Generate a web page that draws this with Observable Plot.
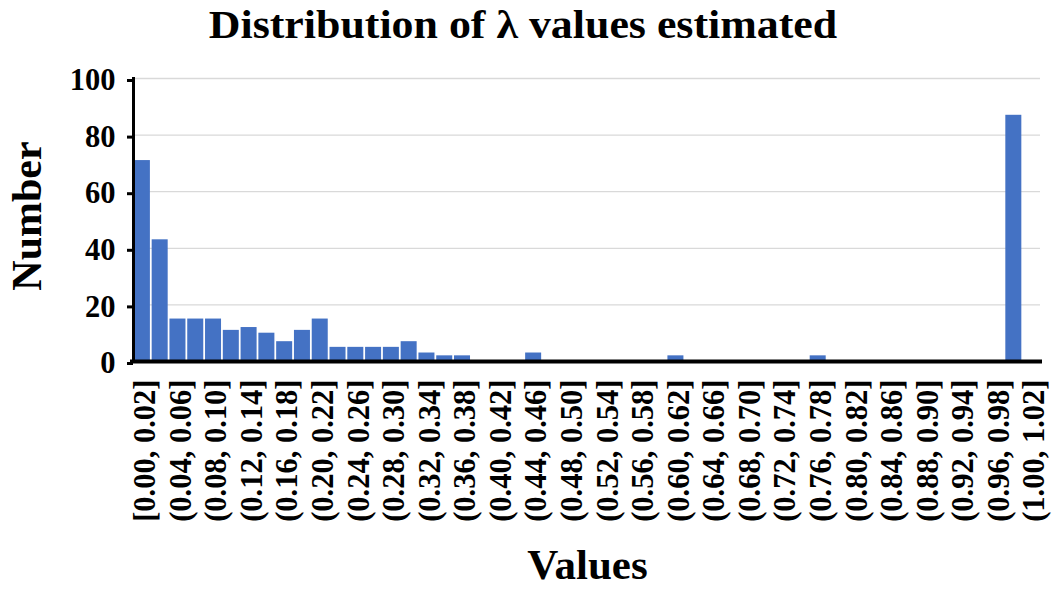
<!DOCTYPE html>
<html>
<head>
<meta charset="utf-8">
<script src="https://cdn.jsdelivr.net/npm/d3@7"></script>
<script src="https://cdn.jsdelivr.net/npm/@observablehq/plot@0.6"></script>
<style>
  body { margin: 0; background: #fff; }
  #wrap { position: relative; width: 1053px; height: 589px; overflow: hidden;
          font-family: "Liberation Serif", "Times New Roman", serif; font-weight: bold; color: #000; }
  #title { position: absolute; left: 0; top: 1px; width: 1046px; height: 46px; line-height: 46px;
           text-align: center; font-size: 41px; white-space: nowrap; transform: scaleX(1.07); transform-origin: 523px 50%; }
  #chart { position: absolute; left: 0; top: 50px; }
  #ylabel { position: absolute; left: -73px; top: 192px; width: 200px; height: 48px; line-height: 48px;
            text-align: center; font-size: 42px; transform: rotate(-90deg); }
  #xlabel { position: absolute; left: 0; top: 540px; width: 1175px; height: 49px; line-height: 49px;
            text-align: center; font-size: 43px; }
</style>
</head>
<body>
<div id="wrap">
  <div id="title">Distribution of λ values estimated</div>
  <div id="chart"></div>
  <div id="ylabel">Number</div>
  <div id="xlabel">Values</div>
</div>
<script>
const bins = [
  "[0.00, 0.02]", "(0.02, 0.04]", "(0.04, 0.06]", "(0.06, 0.08]", "(0.08, 0.10]",
  "(0.10, 0.12]", "(0.12, 0.14]", "(0.14, 0.16]", "(0.16, 0.18]", "(0.18, 0.20]",
  "(0.20, 0.22]", "(0.22, 0.24]", "(0.24, 0.26]", "(0.26, 0.28]", "(0.28, 0.30]",
  "(0.30, 0.32]", "(0.32, 0.34]", "(0.34, 0.36]", "(0.36, 0.38]", "(0.38, 0.40]",
  "(0.40, 0.42]", "(0.42, 0.44]", "(0.44, 0.46]", "(0.46, 0.48]", "(0.48, 0.50]",
  "(0.50, 0.52]", "(0.52, 0.54]", "(0.54, 0.56]", "(0.56, 0.58]", "(0.58, 0.60]",
  "(0.60, 0.62]", "(0.62, 0.64]", "(0.64, 0.66]", "(0.66, 0.68]", "(0.68, 0.70]",
  "(0.70, 0.72]", "(0.72, 0.74]", "(0.74, 0.76]", "(0.76, 0.78]", "(0.78, 0.80]",
  "(0.80, 0.82]", "(0.82, 0.84]", "(0.84, 0.86]", "(0.86, 0.88]", "(0.88, 0.90]",
  "(0.90, 0.92]", "(0.92, 0.94]", "(0.94, 0.96]", "(0.96, 0.98]", "(0.98, 1.00]",
  "(1.00, 1.02]"
];
const counts = [
  71, 43, 15, 15, 15, 11, 12, 10, 7, 11,
  15, 5, 5, 5, 5, 7, 3, 2, 2, 0,
  0, 0, 3, 0, 0, 0, 0, 0, 0, 0,
  2, 0, 0, 0, 0, 0, 0, 0, 2, 0,
  0, 0, 0, 0, 0, 0, 0, 0, 0, 87,
  0
];
const xTickLabels = [
  "[0.00, 0.02]", "(0.04, 0.06]", "(0.08, 0.10]", "(0.12, 0.14]", "(0.16, 0.18]",
  "(0.20, 0.22]", "(0.24, 0.26]", "(0.28, 0.30]", "(0.32, 0.34]", "(0.36, 0.38]",
  "(0.40, 0.42]", "(0.44, 0.46]", "(0.48, 0.50]", "(0.52, 0.54]", "(0.56, 0.58]",
  "(0.60, 0.62]", "(0.64, 0.66]", "(0.68, 0.70]", "(0.72, 0.74]", "(0.76, 0.78]",
  "(0.80, 0.82]", "(0.84, 0.86]", "(0.88, 0.90]", "(0.92, 0.94]", "(0.96, 0.98]",
  "(1.00, 1.02]"
];
const yTicks = [0, 20, 40, 60, 80, 100];

const data = bins.map((b, i) => ({bin: b, count: counts[i]}));

const chart = Plot.plot({
  width: 1053,
  height: 490,
  marginLeft: 133,
  marginRight: 13,
  marginTop: 28,
  marginBottom: 179,
  style: {fontFamily: "'Liberation Serif', 'Times New Roman', serif", fontWeight: "bold", background: "#fff", color: "#000"},
  x: {domain: bins, paddingInner: 0.1, paddingOuter: 0.05},
  y: {domain: [0, 100]},
  marks: [
    Plot.gridY(yTicks, {stroke: "#d9d9d9", strokeOpacity: 1, strokeWidth: 1.3}),
    Plot.barY(data, {x: "bin", y: "count", fill: "#4472C4"}),
    Plot.ruleY([0], {stroke: "#000", strokeWidth: 4, insetLeft: -3, insetRight: -2}),
    Plot.frame({anchor: "left", stroke: "#000", strokeWidth: 3}),
    Plot.axisY(yTicks, {tickSize: 6, tickPadding: 12, stroke: "#000", strokeWidth: 3, fontSize: 30.5, label: null, dy: 2}),
    Plot.axisX(xTickLabels, {tickSize: 0, tickPadding: 18, tickRotate: -90, fontSize: 30.5, label: null, dx: 3})
  ]
});
document.getElementById("chart").appendChild(chart);
</script>
</body>
</html>
